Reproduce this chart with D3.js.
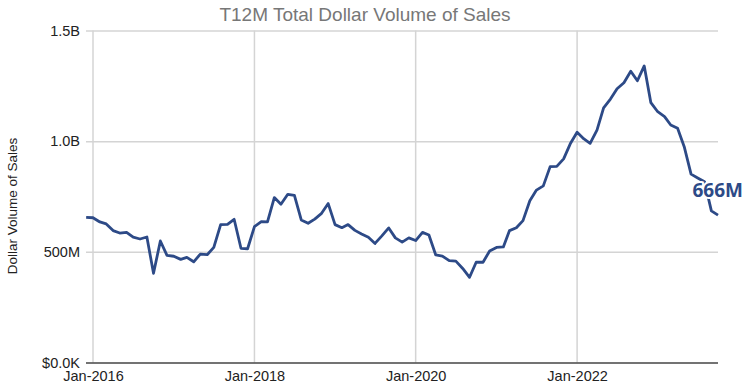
<!DOCTYPE html>
<html>
<head>
<meta charset="utf-8">
<script src="https://cdn.jsdelivr.net/npm/d3@7"></script>
<style>
  html, body { margin: 0; padding: 0; background: #fff; }
  svg { display: block; font-family: "Liberation Sans", Arial, sans-serif; }
</style>
</head>
<body>
<svg id="chart" width="745" height="385"></svg>
<script>
// Trailing-12-month dollar volume of sales, monthly, in millions of dollars
const startMonth = "2015-12";
const volumeM = [
  656,
  654, 635, 626, 596, 585, 588, 566, 558, 567, 403, 549, 484,
  480, 466, 475, 455, 490, 487, 520, 623, 624, 647, 516, 514,
  614, 636, 635, 745, 715, 760, 755, 644, 629, 648, 674, 718,
  623, 609, 623, 597, 581, 566, 538, 572, 608, 563, 544, 563,
  551, 588, 576, 486, 481, 460, 458, 425, 385, 453, 453, 504,
  520, 522, 596, 609, 641, 731, 779, 798, 885, 886, 920, 988,
  1040, 1010, 990, 1050, 1150, 1190, 1237, 1264, 1316, 1273, 1340, 1174,
  1133, 1111, 1073, 1058, 975, 851, 834, 817, 685, 666
];
const xTickDates = ["2016-01", "2018-01", "2020-01", "2022-01"];
const yTickValues = [0, 500, 1000, 1500];
const yTickLabels = ["$0.0K", "500M", "1.0B", "1.5B"];
const xDomain = ["2016-01", "2023-10"];

const title = "T12M Total Dollar Volume of Sales";
const yTitle = "Dollar Volume of Sales";

const parse = d3.timeParse("%Y-%m");
const fmt = d3.timeFormat("%b-%Y");
const start = parse(startMonth);
const data = volumeM.map((v, i) => ({ date: d3.timeMonth.offset(start, i), value: v }));

const svg = d3.select("#chart");
const plot = { left: 93, right: 718, top: 30.5, bottom: 362.5 };

const x = d3.scaleTime()
  .domain(xDomain.map(parse))
  .range([plot.left, plot.right]);
const y = d3.scaleLinear()
  .domain([0, 1500])
  .range([plot.bottom, plot.top]);

// Title
svg.append("text")
  .attr("x", 365).attr("y", 21)
  .attr("text-anchor", "middle")
  .attr("font-size", 19)
  .attr("fill", "#777")
  .text(title);

// Vertical gridlines at the date ticks
svg.append("g")
  .selectAll("line")
  .data(xTickDates.map(parse))
  .join("line")
  .attr("x1", d => x(d)).attr("x2", d => x(d))
  .attr("y1", plot.top).attr("y2", plot.bottom)
  .attr("stroke", "#d4d4d4").attr("stroke-width", 1.5);

// Horizontal gridlines and y tick labels
const yAxis = d3.axisLeft(y)
  .tickValues(yTickValues)
  .tickFormat((d, i) => yTickLabels[i])
  .tickSize(-(plot.right - plot.left + 7))
  .tickPadding(8);
const gy = svg.append("g")
  .attr("transform", `translate(${plot.right},0)`)
  .call(yAxis);
gy.select(".domain").remove();
gy.selectAll(".tick line")
  .attr("x1", -(plot.right - plot.left + 7)).attr("x2", 0)
  .attr("stroke", d => d === 0 ? "#444" : "#d4d4d4")
  .attr("stroke-width", d => d === 0 ? 1.5 : 1.5);
gy.selectAll(".tick text")
  .attr("x", -(plot.right - plot.left + 7) - 6)
  .attr("font-size", 14.5)
  .attr("font-family", "Liberation Sans, Arial, sans-serif")
  .attr("fill", "#222");

// X axis labels
const xAxis = d3.axisBottom(x)
  .tickValues(xTickDates.map(parse))
  .tickFormat(fmt)
  .tickSize(0)
  .tickPadding(8);
const gx = svg.append("g")
  .attr("transform", `translate(0,${plot.bottom})`)
  .call(xAxis);
gx.select(".domain").remove();
gx.selectAll(".tick text")
  .attr("font-size", 14.5)
  .attr("font-family", "Liberation Sans, Arial, sans-serif")
  .attr("fill", "#222");

// Y axis title
svg.append("text")
  .attr("transform", "translate(17,206) rotate(-90)")
  .attr("text-anchor", "middle")
  .attr("font-size", 13.5)
  .attr("fill", "#222")
  .text(yTitle);

// Series line
const line = d3.line()
  .x(d => x(d.date))
  .y(d => y(d.value));
svg.append("path")
  .datum(data)
  .attr("d", line)
  .attr("fill", "none")
  .attr("stroke", "#2d4a87")
  .attr("stroke-width", 2.8)
  .attr("stroke-linejoin", "round");

// Label for the latest value
const last = data[data.length - 1];
svg.append("text")
  .attr("x", x(last.date) + 25)
  .attr("y", y(last.value) - 18)
  .attr("text-anchor", "end")
  .attr("font-family", "'Open Sans', sans-serif")
  .attr("font-weight", "bold")
  .attr("font-size", 19)
  .attr("fill", "#2d4a87")
  .attr("stroke", "#fff")
  .attr("stroke-width", 4)
  .attr("paint-order", "stroke")
  .text(`${last.value}M`);
</script>
</body>
</html>
